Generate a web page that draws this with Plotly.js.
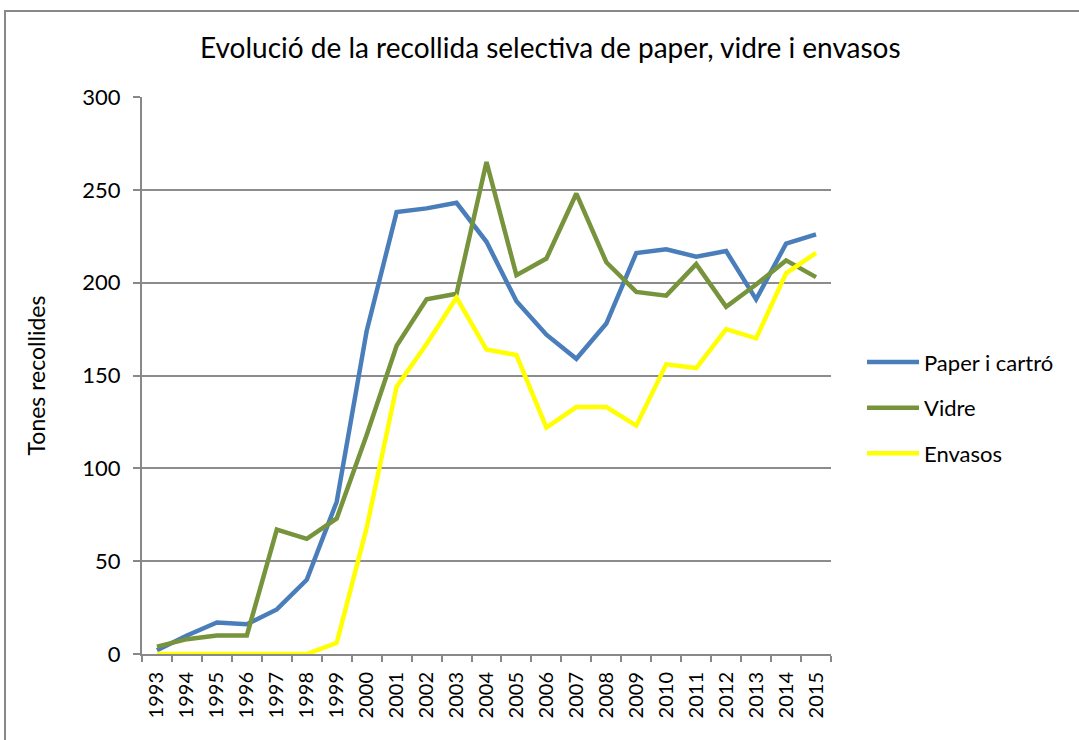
<!DOCTYPE html>
<html>
<head>
<meta charset="utf-8">
<script src="https://cdn.plot.ly/plotly-3.0.1.min.js"></script>
<style>
    body { margin: 0; background: #fff; overflow: hidden; }
    #frame {
        position: absolute; left: 4px; top: 10px;
        width: 1100px; height: 740px;
        border: 2px solid #888; box-sizing: border-box;
    }
    #chart { position: absolute; left: 0; top: 0; width: 1079px; height: 740px; }
</style>
</head>
<body>
<div id="frame"></div>
<div id="chart"></div>
<script>
// Chart data
const years = ['1993', '1994', '1995', '1996', '1997', '1998', '1999', '2000', '2001', '2002', '2003', '2004',
    '2005', '2006', '2007', '2008', '2009', '2010', '2011', '2012', '2013', '2014', '2015'];

const paper = [2, 10, 17, 16, 24, 40, 82, 174, 238, 240, 243, 222,
    190, 172, 159, 178, 216, 218, 214, 217, 191, 221, 226];

const vidre = [4, 8, 10, 10, 67, 62, 73, 118, 166, 191, 194, 265,
    204, 213, 248, 211, 195, 193, 210, 187, 199, 212, 203];

const envasos = [0, 0, 0, 0, 0, 0, 6, 68, 144, 167, 192, 164,
    161, 122, 133, 133, 123, 156, 154, 175, 170, 205, 216];

const seriesNames = ['Paper i cartró', 'Vidre', 'Envasos'];
const seriesColors = ['#4A7EBB', '#77933C', '#FFFF00'];

const fontFamily = 'Lato, "Open Sans", sans-serif';

function makeTrace(values, i) {
    return {
        x: years,
        y: values,
        type: 'scatter',
        mode: 'lines',
        name: seriesNames[i],
        legendgroup: 'g' + i,
        line: { color: seriesColors[i], width: 4.5 }
    };
}

const traces = [paper, vidre, envasos].map(makeTrace);

const layout = {
    width: 1079,
    height: 740,
    margin: { l: 142, r: 248, t: 97, b: 86 },
    paper_bgcolor: 'rgba(0,0,0,0)',
    plot_bgcolor: 'rgba(0,0,0,0)',
    font: { family: fontFamily, color: '#000' },
    title: {
        text: 'Evolució de la recollida selectiva de paper, vidre i envasos',
        font: { size: 28, family: fontFamily, color: '#000' },
        x: 0.51, xanchor: 'center',
        y: 0.935, yanchor: 'middle'
    },
    xaxis: {
        type: 'category',
        range: [-0.5, 22.5],
        tickangle: -90,
        tickfont: { size: 20 },
        ticklabelstandoff: 8,
        tickson: 'boundaries',
        ticks: 'outside',
        ticklen: 6,
        tickcolor: '#888',
        tickwidth: 2,
        showline: true,
        linecolor: '#888',
        linewidth: 2,
        showgrid: false,
        fixedrange: true
    },
    yaxis: {
        range: [0, 300],
        dtick: 50,
        tickfont: { size: 22 },
        ticklabelstandoff: 8,
        ticks: 'outside',
        ticklen: 7,
        tickcolor: '#888',
        tickwidth: 2,
        showline: true,
        linecolor: '#888',
        linewidth: 2,
        gridcolor: '#8c8c8c',
        gridwidth: 2,
        zeroline: false,
        title: { text: 'Tones recollides', font: { size: 23 }, standoff: 30 }
    },
    showlegend: true,
    legend: {
        x: 1.045, xanchor: 'left',
        y: 0.442, yanchor: 'middle',
        font: { size: 22, family: fontFamily },
        traceorder: 'grouped',
        tracegroupgap: 14,
        itemwidth: 52
    }
};

Plotly.newPlot('chart', traces, layout, { displayModeBar: false, staticPlot: true });
</script>
</body>
</html>
